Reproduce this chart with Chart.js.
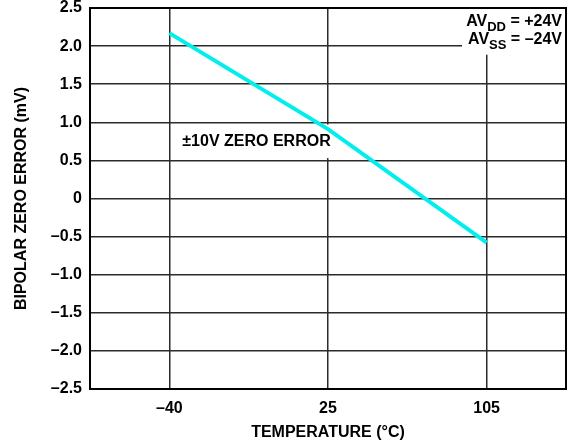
<!DOCTYPE html>
<html>
<head>
<meta charset="utf-8">
<script src="https://cdn.jsdelivr.net/npm/chart.js@4.4.1/dist/chart.umd.min.js"></script>
<style>
    html, body { margin: 0; padding: 0; background: #fff; }
    #wrap { width: 570px; height: 445px; position: relative; }
</style>
</head>
<body>
<div id="wrap"><canvas id="zeroErrorChart"></canvas></div>
<script>
// ============================================
// DATA
// ============================================

const temperatures = ['\u201340', '25', '105'];
const zeroError = [2.17, 0.91, -0.58];
const yTickLabels = ['\u20132.5', '\u20132.0', '\u20131.5', '\u20131.0', '\u20130.5', '0',
                     '0.5', '1.0', '1.5', '2.0', '2.5'];
const seriesLabel = '\u00b110V ZERO ERROR';
const supplyNotes = [
    { base: 'AV', sub: 'DD', rest: ' = +24V' },
    { base: 'AV', sub: 'SS', rest: ' = \u201324V' }
];

const FONT = '"Liberation Sans", Arial, sans-serif';

// ============================================
// ANNOTATIONS (white boxes + texts)
// ============================================

const annotationPlugin = {
    id: 'annotations',
    beforeDatasetsDraw(chart) {
        const { ctx, chartArea, scales } = chart;
        const xs = scales.x, ys = scales.y;
        ctx.save();
        ctx.fillStyle = '#fff';
        // box behind the series label
        const bx0 = xs.getPixelForValue(0) + 4;
        const bx1 = xs.getPixelForValue(1) + 5;
        const by0 = ys.getPixelForValue(0.97);
        const by1 = ys.getPixelForValue(0.53);
        ctx.fillRect(bx0, by0, bx1 - bx0, by1 - by0);
        // box behind the supply notes
        ctx.fillRect(chartArea.right - 104, chartArea.top + 1, 103, ys.getPixelForValue(1.9) - chartArea.top);
        ctx.restore();
    },
    afterDatasetsDraw(chart) {
        const { ctx, chartArea, scales } = chart;
        const xs = scales.x, ys = scales.y;
        ctx.save();
        ctx.fillStyle = '#000';
        ctx.textBaseline = 'middle';
        ctx.textAlign = 'left';
        ctx.font = 'bold 16px ' + FONT;
        ctx.fillText(seriesLabel, xs.getPixelForValue(0) + 13, ys.getPixelForValue(0.745));

        // supply notes, right aligned with subscripts
        ctx.textBaseline = 'alphabetic';
        const bigFont = 'bold 16px ' + FONT;
        const smallFont = 'bold 13px ' + FONT;
        const right = chartArea.right - 4;
        supplyNotes.forEach((n, i) => {
            const baseY = chartArea.top + 18 + i * 18;
            ctx.font = bigFont;
            const w1 = ctx.measureText(n.base).width;
            const w3 = ctx.measureText(n.rest).width;
            ctx.font = smallFont;
            const w2 = ctx.measureText(n.sub).width;
            let x = right - (w1 + w2 + w3);
            ctx.font = bigFont;
            ctx.fillText(n.base, x, baseY);
            x += w1;
            ctx.font = smallFont;
            ctx.fillText(n.sub, x, baseY + 5);
            x += w2;
            ctx.font = bigFont;
            ctx.fillText(n.rest, x, baseY);
        });
        ctx.restore();
    },
    afterDraw(chart) {
        const { ctx, chartArea } = chart;
        ctx.save();
        ctx.strokeStyle = '#000';
        ctx.lineWidth = 2;
        ctx.strokeRect(chartArea.left, chartArea.top, chartArea.right - chartArea.left, chartArea.bottom - chartArea.top);
        ctx.restore();
    }
};

// ============================================
// CHART
// ============================================

function initChart() {
    const ctx = document.getElementById('zeroErrorChart').getContext('2d');

    new Chart(ctx, {
        type: 'line',
        data: {
            labels: temperatures,
            datasets: [{
                label: seriesLabel,
                data: zeroError,
                borderColor: '#00eeee',
                borderWidth: 4,
                pointRadius: 0,
                tension: 0,
                fill: false
            }]
        },
        options: {
            responsive: true,
            maintainAspectRatio: false,
            animation: false,
            layout: { padding: { left: 0, right: 4, top: 8, bottom: 0 } },
            plugins: {
                legend: { display: false },
                tooltip: { enabled: false }
            },
            scales: {
                x: {
                    type: 'category',
                    offset: true,
                    afterFit: (scale) => {
                        scale.height = 56;
                        scale.paddingLeft = 0;
                        scale.paddingRight = 0;
                    },
                    grid: { offset: false, color: '#2b2b2b', lineWidth: 1.5, drawTicks: false },
                    border: { display: false },
                    ticks: {
                        color: '#000',
                        padding: 10,
                        maxRotation: 0,
                        font: { family: FONT, size: 16, weight: 'bold' }
                    },
                    title: {
                        display: true,
                        text: 'TEMPERATURE (\u00b0C)',
                        color: '#000',
                        padding: { top: 0, bottom: 3 },
                        font: { family: FONT, size: 16, weight: 'bold' }
                    }
                },
                y: {
                    min: -2.5,
                    max: 2.5,
                    afterFit: (scale) => {
                        scale.width = 90;
                        scale.paddingTop = 0;
                        scale.paddingBottom = 0;
                    },
                    grid: { color: '#2b2b2b', lineWidth: 1.5, drawTicks: false },
                    border: { display: false },
                    ticks: {
                        stepSize: 0.5,
                        color: '#000',
                        padding: 8,
                        font: { family: FONT, size: 16, weight: 'bold' },
                        callback: (value, index) => yTickLabels[index]
                    },
                    title: {
                        display: true,
                        text: 'BIPOLAR ZERO ERROR (mV)',
                        color: '#000',
                        padding: { top: 12, bottom: 0 },
                        font: { family: FONT, size: 16, weight: 'bold' }
                    }
                }
            }
        },
        plugins: [annotationPlugin]
    });
}

initChart();
</script>
</body>
</html>
